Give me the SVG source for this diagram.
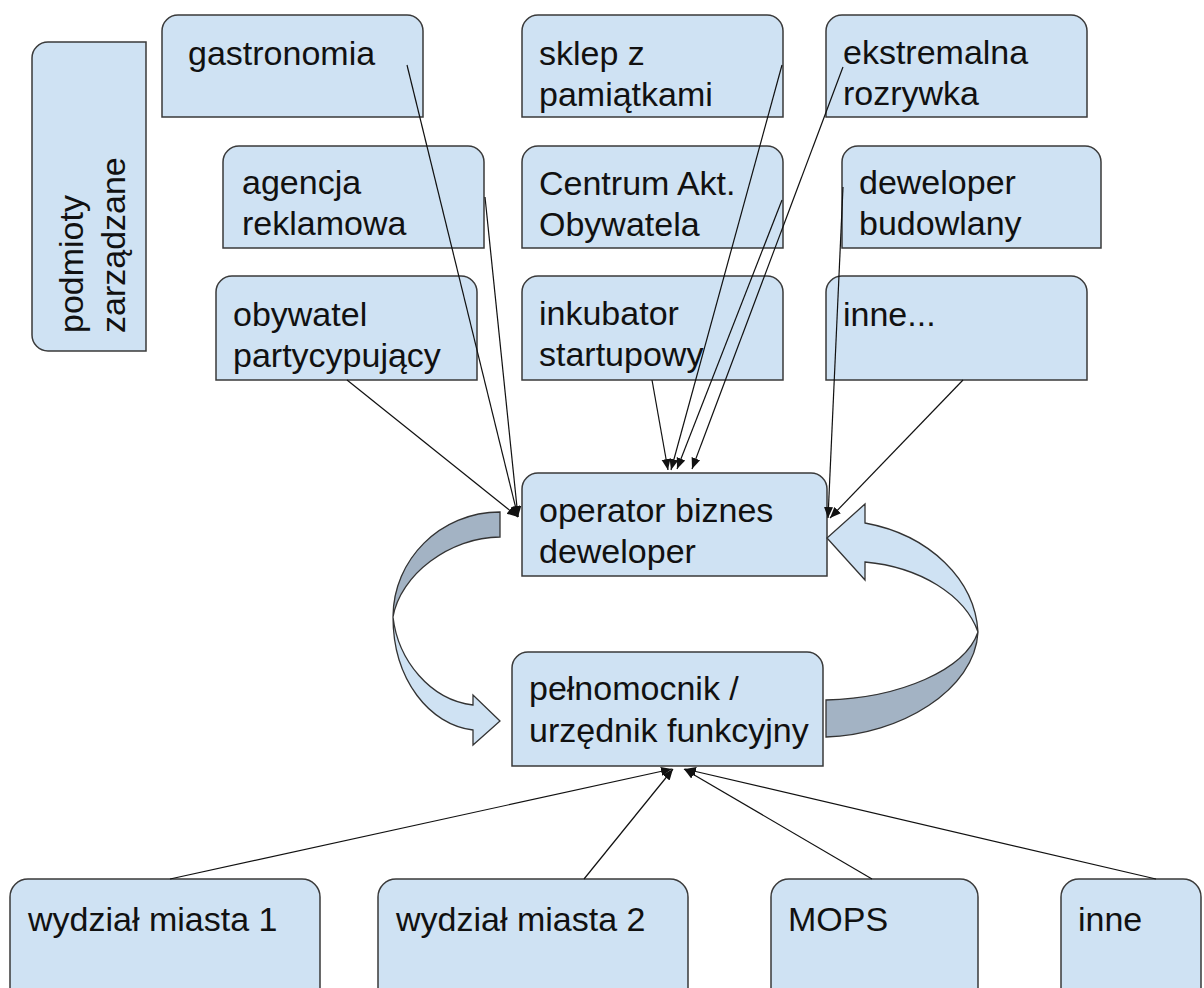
<svg xmlns="http://www.w3.org/2000/svg" width="1204" height="988" viewBox="0 0 1204 988">
<defs>
<style>
.box{fill:#cfe2f3;stroke:#3a3a3a;stroke-width:1.5}
.t{font-family:"Liberation Sans",Arial,sans-serif;font-size:34px;fill:#111}
.c{fill:none;stroke:#111;stroke-width:1.2}
.dark{fill:#a3b3c4;stroke:#333;stroke-width:1.3}
.light{fill:#cfe2f3;stroke:#333;stroke-width:1.3}
</style>
<marker id="ah" markerUnits="userSpaceOnUse" markerWidth="12" markerHeight="12" viewBox="0 0 12 12" refX="11" refY="6" orient="auto">
<path d="M0,1.5 L11,6 L0,10.5 Z" fill="#111"/>
</marker>
</defs>
<rect width="1204" height="988" fill="#fff"/>

<g id="podmioty">
<path class="box" d="M146,42 L146,351 L48,351 A16,16 0 0 1 32,335 L32,58 A16,16 0 0 1 48,42 Z"/>
<text class="t" transform="translate(83,333) rotate(-90)">podmioty</text>
<text class="t" transform="translate(125,333) rotate(-90)">zarządzane</text>
</g>

<g id="gastronomia">
<path class="box" d="M162,117 L162,31 A16,16 0 0 1 178,15 L407,15 A16,16 0 0 1 423,31 L423,117 Z"/>
<text class="t" x="188" y="65">gastronomia</text>
</g>
<g id="sklep">
<path class="box" d="M522,117 L522,31 A16,16 0 0 1 538,15 L767,15 A16,16 0 0 1 783,31 L783,117 Z"/>
<text class="t" x="539" y="65">sklep z</text>
<text class="t" x="539" y="106">pamiątkami</text>
</g>
<g id="ekstremalna">
<path class="box" d="M826,117 L826,31 A16,16 0 0 1 842,15 L1071,15 A16,16 0 0 1 1087,31 L1087,117 Z"/>
<text class="t" x="843" y="64">ekstremalna</text>
<text class="t" x="843" y="105">rozrywka</text>
</g>

<g id="agencja">
<path class="box" d="M223,248 L223,162 A16,16 0 0 1 239,146 L468,146 A16,16 0 0 1 484,162 L484,248 Z"/>
<text class="t" x="242" y="194">agencja</text>
<text class="t" x="242" y="235">reklamowa</text>
</g>
<g id="centrum">
<path class="box" d="M522,248 L522,162 A16,16 0 0 1 538,146 L767,146 A16,16 0 0 1 783,162 L783,248 Z"/>
<text class="t" x="539" y="195">Centrum Akt.</text>
<text class="t" x="539" y="236">Obywatela</text>
</g>
<g id="deweloper-budowlany">
<path class="box" d="M842,248 L842,162 A16,16 0 0 1 858,146 L1085,146 A16,16 0 0 1 1101,162 L1101,248 Z"/>
<text class="t" x="859" y="194">deweloper</text>
<text class="t" x="859" y="235">budowlany</text>
</g>

<g id="obywatel">
<path class="box" d="M216,380 L216,292 A16,16 0 0 1 232,276 L461,276 A16,16 0 0 1 477,292 L477,380 Z"/>
<text class="t" x="233" y="326">obywatel</text>
<text class="t" x="233" y="367">partycypujący</text>
</g>
<g id="inkubator">
<path class="box" d="M522,380 L522,292 A16,16 0 0 1 538,276 L767,276 A16,16 0 0 1 783,292 L783,380 Z"/>
<text class="t" x="539" y="325">inkubator</text>
<text class="t" x="539" y="366">startupowy</text>
</g>
<g id="inne-top">
<path class="box" d="M826,380 L826,292 A16,16 0 0 1 842,276 L1071,276 A16,16 0 0 1 1087,292 L1087,380 Z"/>
<text class="t" x="843" y="326">inne...</text>
</g>

<g id="operator">
<path class="box" d="M522,576 L522,489 A16,16 0 0 1 538,473 L811,473 A16,16 0 0 1 827,489 L827,576 Z"/>
<text class="t" x="539" y="522">operator biznes</text>
<text class="t" x="539" y="563">deweloper</text>
</g>

<g id="pelnomocnik">
<path class="box" d="M512,766 L512,668 A16,16 0 0 1 528,652 L807,652 A16,16 0 0 1 823,668 L823,766 Z"/>
<text class="t" x="529" y="700">pełnomocnik /</text>
<text class="t" x="529" y="742">urzędnik funkcyjny</text>
</g>

<g id="wydzial1">
<path class="box" d="M10,995 L10,897 A18,18 0 0 1 28,879 L302,879 A18,18 0 0 1 320,897 L320,995 Z"/>
<text class="t" x="28" y="931">wydział miasta 1</text>
</g>
<g id="wydzial2">
<path class="box" d="M378,995 L378,897 A18,18 0 0 1 396,879 L670,879 A18,18 0 0 1 688,897 L688,995 Z"/>
<text class="t" x="396" y="931">wydział miasta 2</text>
</g>
<g id="mops">
<path class="box" d="M771,995 L771,897 A18,18 0 0 1 789,879 L960,879 A18,18 0 0 1 978,897 L978,995 Z"/>
<text class="t" x="788" y="931">MOPS</text>
</g>
<g id="inne-bottom">
<path class="box" d="M1061,995 L1061,897 A18,18 0 0 1 1079,879 L1183,879 A18,18 0 0 1 1201,897 L1201,995 Z"/>
<text class="t" x="1078" y="931">inne</text>
</g>

<g id="cycle-arrows">
<path class="dark" d="M500,512 C440,512 393,560 393,617 C400,575 450,537 500,537 Z"/>
<path class="light" d="M393,617 C393,680 430,725 473,730 L473,745 L500,721 L473,695 L473,705 C430,700 398,660 393,617 Z"/>
<path class="light" d="M865,523 C930,535 975,580 978,632 C965,595 920,567 865,562 L865,580 L827,538 L865,504 Z"/>
<path class="dark" d="M978,632 C975,690 900,735 826,737 L826,700 C900,698 965,670 978,632 Z"/>
</g>

<g id="connectors">
<line class="c" x1="407" y1="65" x2="518" y2="517" marker-end="url(#ah)"/>
<line class="c" x1="485" y1="197" x2="518" y2="517" marker-end="url(#ah)"/>
<line class="c" x1="347" y1="380" x2="518" y2="517" marker-end="url(#ah)"/>
<line class="c" x1="652" y1="380" x2="668" y2="470" marker-end="url(#ah)"/>
<line class="c" x1="782" y1="65" x2="671" y2="470" marker-end="url(#ah)"/>
<line class="c" x1="782" y1="200" x2="677" y2="469" marker-end="url(#ah)"/>
<line class="c" x1="843" y1="67" x2="692" y2="469" marker-end="url(#ah)"/>
<line class="c" x1="843" y1="187" x2="828" y2="518" marker-end="url(#ah)"/>
<line class="c" x1="963" y1="380" x2="830" y2="518" marker-end="url(#ah)"/>
<line class="c" x1="170" y1="879" x2="672" y2="769" marker-end="url(#ah)"/>
<line class="c" x1="584" y1="879" x2="673" y2="769" marker-end="url(#ah)"/>
<line class="c" x1="872" y1="879" x2="684" y2="769" marker-end="url(#ah)"/>
<line class="c" x1="1156" y1="879" x2="685" y2="769" marker-end="url(#ah)"/>
</g>
</svg>
